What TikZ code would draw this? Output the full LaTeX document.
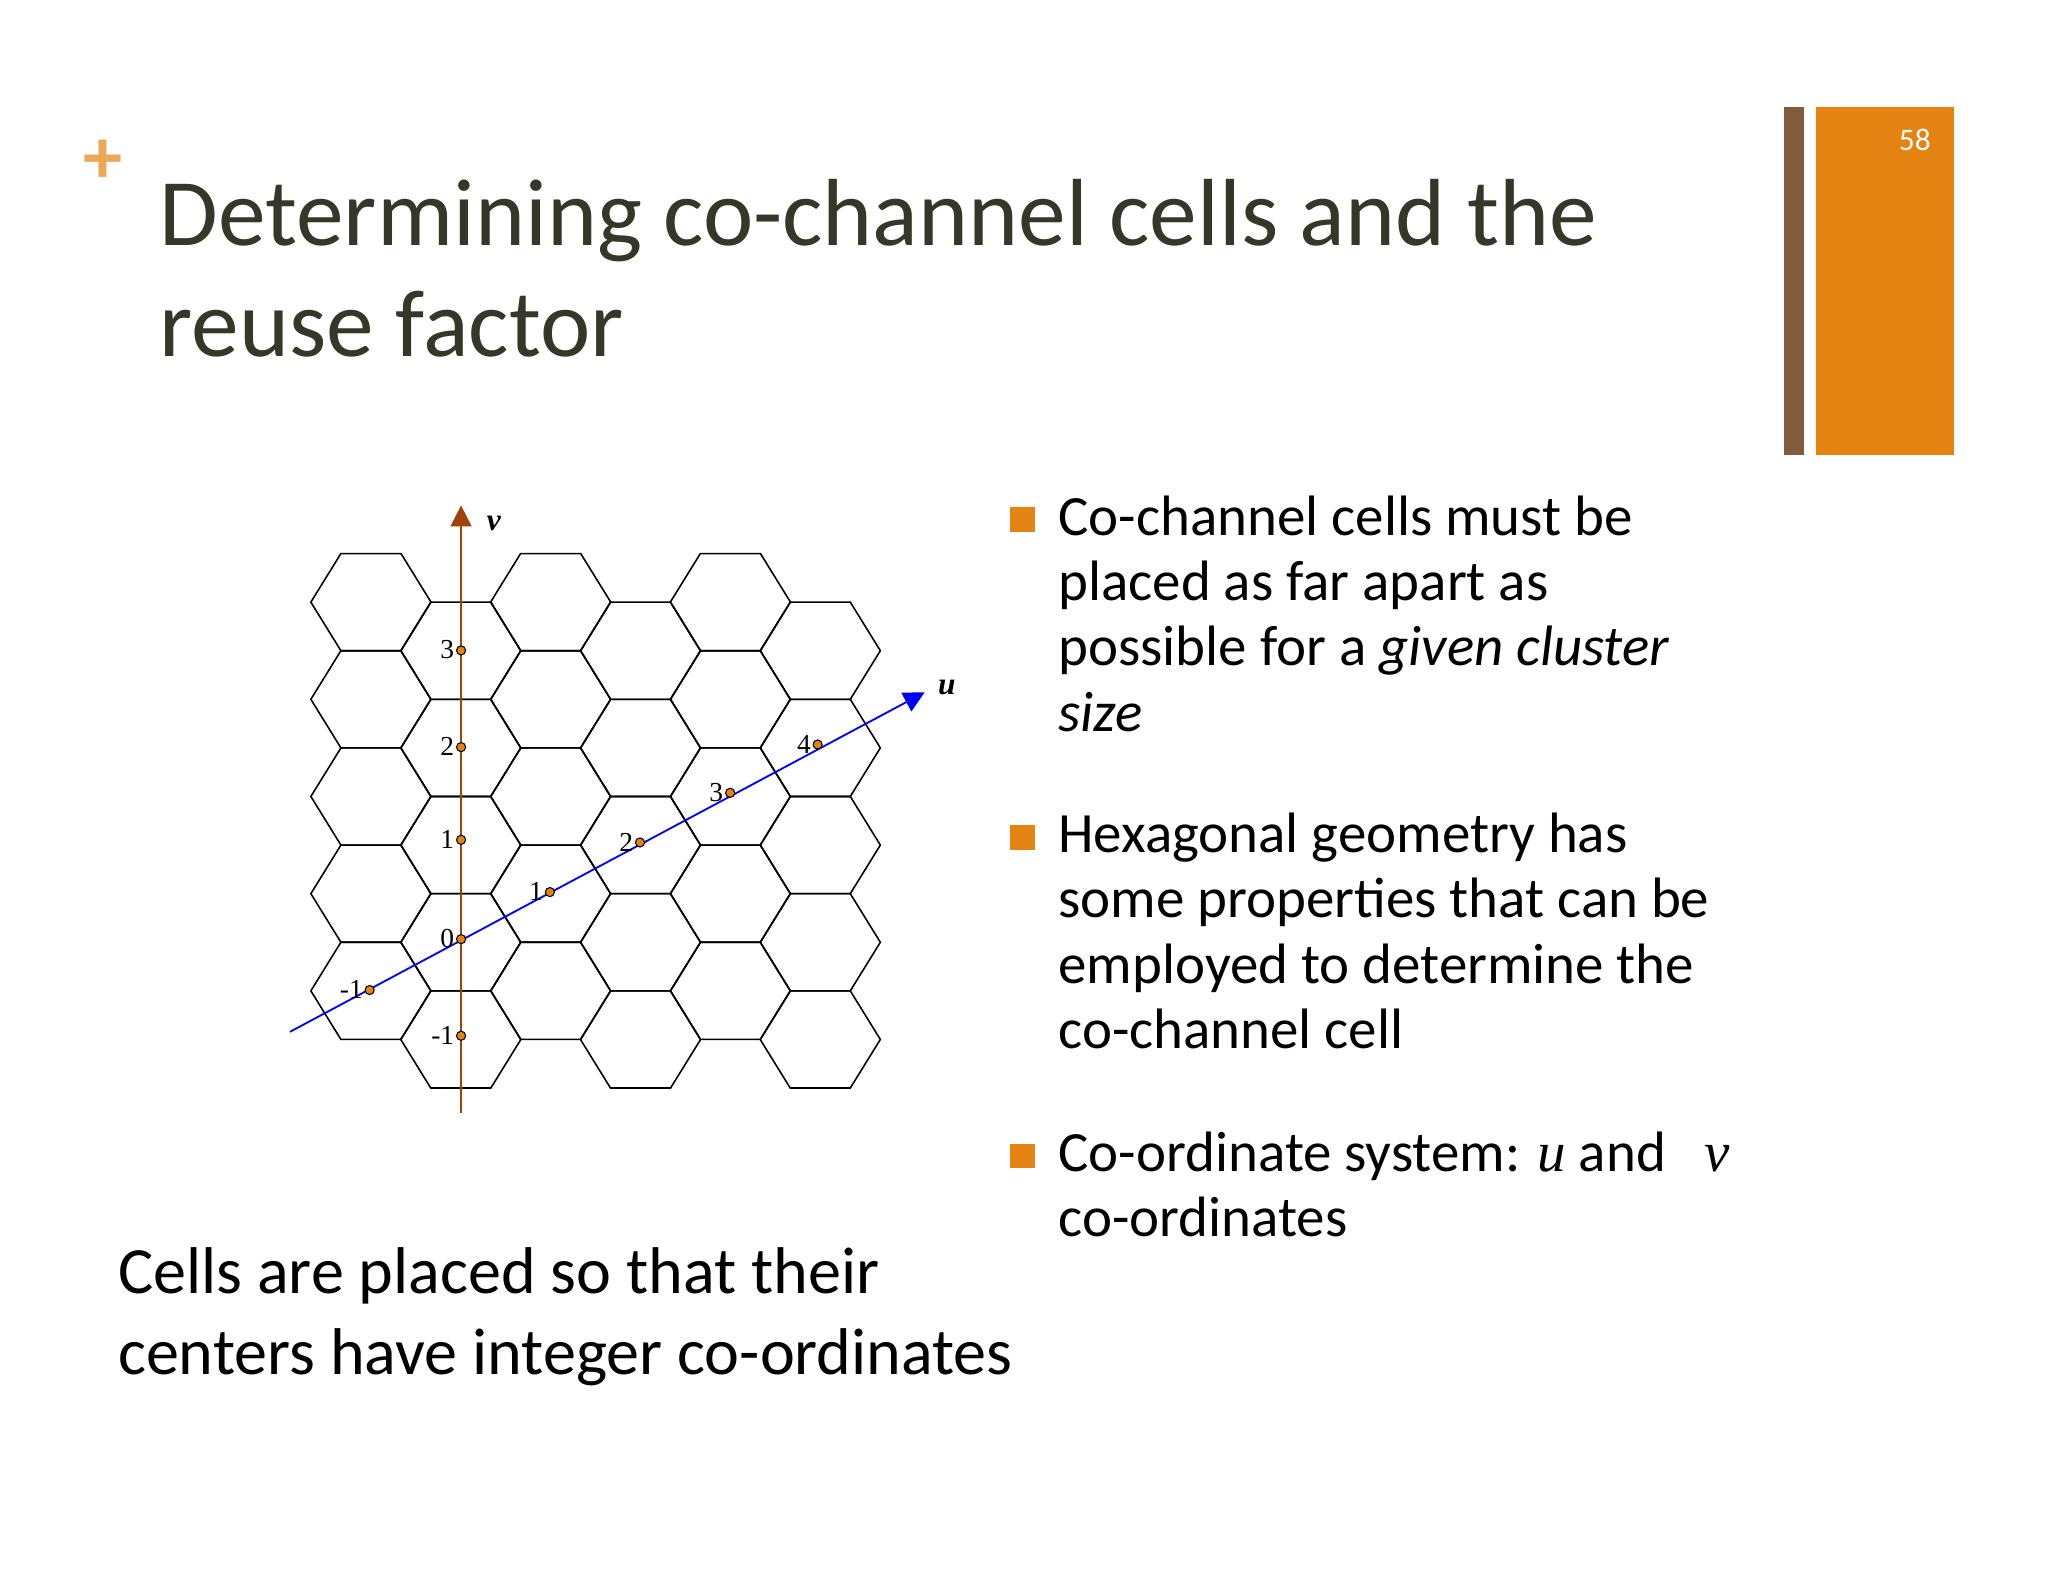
\documentclass[tikz,border=0pt]{standalone}
\usetikzlibrary{arrows.meta}
\usepackage{fontspec}
\setmainfont{Carlito}
\newfontfamily\tms{Liberation Serif}
\definecolor{orng}{HTML}{E48312}
\definecolor{brwn}{HTML}{825A3C}
\definecolor{ttl}{HTML}{363729}
\definecolor{vax}{HTML}{A0420A}
\begin{document}
\begin{tikzpicture}[x=0.5pt,y=-0.5pt,
  hexs/.style={draw=black,line width=0.6pt},
  pt/.style={circle,draw=black,fill=orng,inner sep=0pt,minimum size=3.5pt,line width=0.4pt},
  lbl/.style={font=\tms\fontsize{10.5}{10.5}\selectfont,inner sep=1pt},
  bul/.style={fill=orng,minimum size=9.5pt,inner sep=0pt},
  btxt/.style={anchor=north west,align=left,font=\fontsize{21.8}{25}\selectfont,inner sep=0pt}]
\useasboundingbox (0,0) rectangle (1568,1211);
\fill[white] (0,0) rectangle (1568,1211);
% side bars
\fill[brwn] (1366,82) rectangle (1381,348);
\fill[orng] (1390,82) rectangle (1496,348);
\node[text=white,font=\fontsize{12}{12}\selectfont] (num) at (1466,107) {58};
% plus
\node[text=orng!70,font=\bfseries\fontsize{30}{30}\selectfont] (plus) at (79,124) {+};
% title
\node[anchor=north west,text=ttl,font=\fontsize{36.5}{42.5}\selectfont,align=left,inner sep=0pt] (title) at (122,137)
  {Determining co-channel cells and the\\reuse factor};
% hex grid
\foreach \c in {0,...,5}{
  \pgfmathsetmacro{\cx}{284+68.8*\c}
  \pgfmathsetmacro{\off}{mod(\c,2)*37.2}
  \foreach \r in {0,...,4}{
    \pgfmathsetmacro{\cy}{461+74.4*\r+\off}
    \draw[hexs] (\cx-46,\cy) -- (\cx-23,\cy-37.2) -- (\cx+23,\cy-37.2) -- (\cx+46,\cy)
      -- (\cx+23,\cy+37.2) -- (\cx-23,\cy+37.2) -- cycle;
  }}
% axes
\coordinate (vs) at (353,852);
\coordinate (ve) at (353,387);
\coordinate (us) at (222,790);
\coordinate (ue) at (708,530);
\draw[vax,line width=0.7pt,-{Triangle[length=8pt,width=8pt]}] (vs) -- (ve);
\draw[blue,line width=0.7pt,-{Triangle[length=8pt,width=8pt]}] (us) -- (ue);
\node[lbl,font=\tms\bfseries\itshape\fontsize{12}{12}\selectfont] (vl) at (378,401) {v};
\node[lbl,font=\tms\bfseries\itshape\fontsize{12}{12}\selectfont] (ul) at (725,526) {u};
% points
\foreach \n/\x/\y/\t in {v3/353/498/3,v2/353/572/2,v1/353/643/1,o/353/719/0,vm/353/793/-1,
    um/283/758/-1,u1/421/683/1,u2/490/645/2,u3/559/607/3,u4/626/570/4}{
  \node[pt] (\n) at (\x,\y) {};
  \node[lbl,anchor=south east,inner sep=0.5pt] (\n t) at ([xshift=0pt,yshift=-4pt]\n.west) {\t};
}
% bullets
\node[bul] (b1) at (783,398) {};
\node[bul] (b2) at (783,641) {};
\node[bul] (b3) at (783,885) {};
\node[btxt] (t1) at (810,379) {Co-channel cells must be\\placed as far apart as\\possible for a \textit{given cluster}\\\textit{size}};
\node[btxt] (t2) at (810,622) {Hexagonal geometry has\\some properties that can be\\employed to determine the\\co-channel cell};
\node[btxt] (t3) at (810,866) {Co-ordinate system: {\tms\itshape u} and \ \ {\tms\itshape v}\\co-ordinates};
% caption
\node[anchor=north west,align=left,font=\fontsize{25.3}{31}\selectfont,inner sep=0pt] (cap) at (90,955)
  {Cells are placed so that their\\centers have integer co-ordinates};
\end{tikzpicture}
\end{document}
